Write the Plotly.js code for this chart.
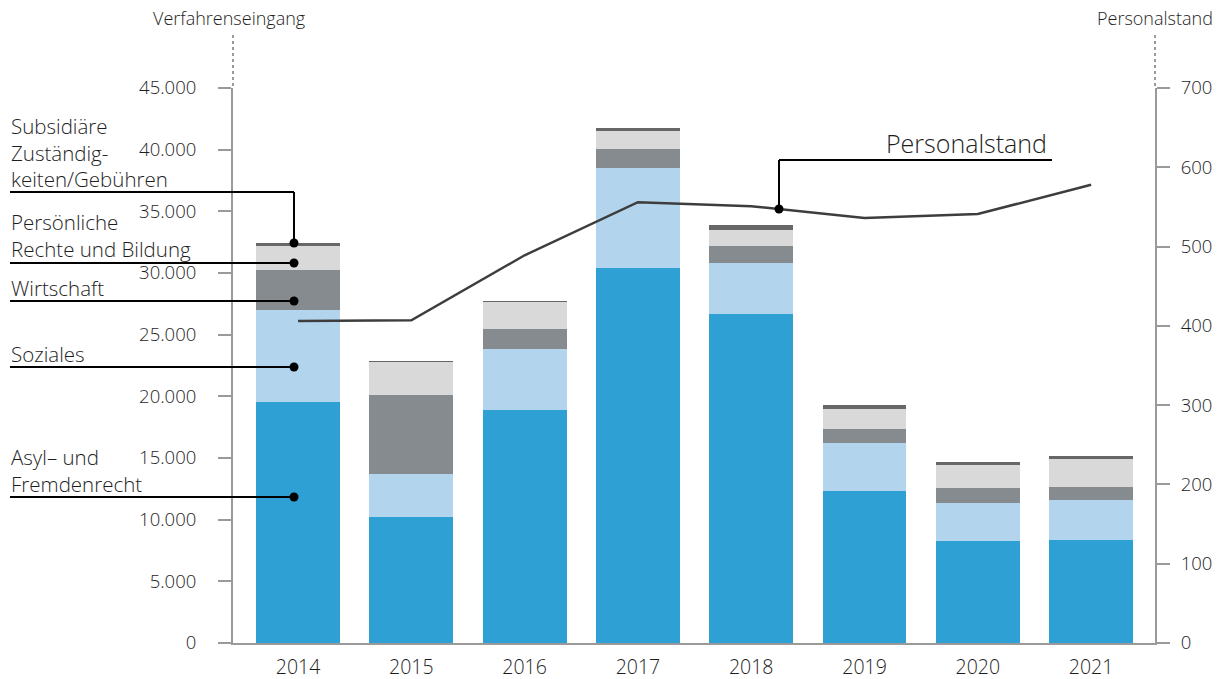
<!DOCTYPE html>
<html>
<head>
<meta charset="utf-8">
<script src="https://cdn.plot.ly/plotly-3.0.1.min.js"></script>
<style>html,body{margin:0;padding:0;background:#fff;}</style>
</head>
<body>
<div id="chart" style="width:1224px;height:679px;"></div>
<script>
// ---- data ----
const years = ['2014','2015','2016','2017','2018','2019','2020','2021'];
const asyl        = [19540, 10220, 18890, 30400, 26680, 12320, 8270, 8350];
const soziales    = [7460, 3490, 4950, 8110, 4130, 3890, 3080, 3240];
const wirtschaft  = [3240, 6400, 1620, 1540, 1380, 1140, 1220, 1050];
const persoenlich = [1950, 2680, 2190, 1460, 1300, 1620, 1870, 2270];
const subsidiaer  = [220, 80, 60, 240, 400, 320, 240, 240];
const personal    = [406, 407, 489, 556, 551, 536, 541, 578];
const leftTicks = [0,5000,10000,15000,20000,25000,30000,35000,40000,45000];
const rightTicks = [0,100,200,300,400,500,600,700];

// ---- layout helpers (pixel -> paper) ----
const L = 233, R = 1155, T = 88, B = 643;
const X = px => (px - L) / (R - L);
const Y = py => (B - py) / (B - T);

const font = 'Open Sans, Segoe UI, sans-serif';
const txt = '#1e1e1e';
const W = 300;

function bar(name, vals, color) {
  return {type:'bar', name, x: years, y: vals, marker:{color, line:{width:0}}, hoverinfo:'x+y+name'};
}
const traces = [
  bar('Asyl– und Fremdenrecht', asyl, '#2ea0d3'),
  bar('Soziales', soziales, '#b2d4ec'),
  bar('Wirtschaft', wirtschaft, '#868b8f'),
  bar('Persönliche Rechte und Bildung', persoenlich, '#d9d9d9'),
  bar('Subsidiäre Zuständigkeiten/Gebühren', subsidiaer, '#676767'),
  {type:'scatter', mode:'lines', name:'Personalstand', x: years, y: personal, yaxis:'y2',
   line:{color:'#3d3d3d', width:2.5}}
];

const shapes = [];
const annotations = [];
function seg(x0,y0,x1,y1){ shapes.push({type:'line', xref:'paper', yref:'paper', x0:X(x0), y0:Y(y0), x1:X(x1), y1:Y(y1), line:{color:'#000', width:2}}); }
function dot(x,y){ shapes.push({type:'circle', xref:'paper', yref:'paper', xsizemode:'pixel', ysizemode:'pixel', xanchor:X(x), yanchor:Y(y), x0:-4.5, x1:4.5, y0:-4.5, y1:4.5, fillcolor:'#000', line:{width:0}}); }
function label(text, x, y){ annotations.push({text, xref:'paper', yref:'paper', x:X(x), y:Y(y), xanchor:'left', yanchor:'bottom', align:'left', showarrow:false, font:{family:font, size:20.5, color:txt, weight:W}}); }

// left labels with connectors (text sits on its underline)
label('Subsidiäre<br>Zuständig-<br>keiten/Gebühren', 9, 195);
seg(10,192,294,192); seg(294,192,294,243); dot(294,243);
label('Persönliche<br>Rechte und Bildung', 9, 265);
seg(10,263,294,263); dot(294,263);
label('Wirtschaft', 9, 304);
seg(10,301,294,301); dot(294,301);
label('Soziales', 9, 370);
seg(10,367,294,367); dot(294,367);
label('Asyl– und<br>Fremdenrecht', 9, 500);
seg(10,497,294,497); dot(294,497);

// Personalstand callout
annotations.push({text:'Personalstand', xref:'paper', yref:'paper', x:X(1049), y:Y(143), xanchor:'right', yanchor:'middle', showarrow:false, font:{family:font, size:25, color:txt, weight:W}});
seg(779,160,1052,160); seg(779,160,779,209); dot(779,209);

// axis titles and dotted extensions
annotations.push({text:'Verfahrenseingang', xref:'paper', yref:'paper', x:X(229), y:Y(18), xanchor:'center', yanchor:'middle', showarrow:false, font:{family:font, size:18, color:txt, weight:W}});
annotations.push({text:'Personalstand', xref:'paper', yref:'paper', x:X(1155), y:Y(18), xanchor:'center', yanchor:'middle', showarrow:false, font:{family:font, size:18, color:txt, weight:W}});
[L, R].forEach(px => shapes.push({type:'line', xref:'paper', yref:'paper', x0:X(px), x1:X(px), y0:Y(86), y1:Y(35), line:{color:'#9a9a9a', width:2, dash:'dot'}}));

const axisStyle = {showgrid:false, zeroline:false, showline:true, linecolor:'#9a9a9a', linewidth:2,
  ticks:'outside', ticklen:13, tickwidth:2, tickcolor:'#9a9a9a', tickfont:{family:font, size:18.5, color:txt, weight:W}, fixedrange:true};

const layout = {
  width:1224, height:679,
  margin:{l:L, r:1224-R, t:T, b:679-B},
  paper_bgcolor:'#fff', plot_bgcolor:'#fff',
  barmode:'stack', bargap:0.26, showlegend:false,
  separators:',.',
  font:{family:font, color:txt},
  xaxis:{type:'category', range:[-0.574, 7.564], showgrid:false, zeroline:false, showline:true, linecolor:'#9a9a9a', linewidth:2,
         ticks:'', tickfont:{family:font, size:19.5, color:txt, weight:W}, ticklabelstandoff:6, fixedrange:true},
  yaxis:Object.assign({range:[0,45000], tickvals:leftTicks, tickformat:',d', ticklabelstandoff:18}, axisStyle),
  yaxis2:Object.assign({range:[0,700], tickvals:rightTicks, tickformat:'d', overlaying:'y', side:'right', ticklabelstandoff:7}, axisStyle),
  shapes, annotations
};

Plotly.newPlot('chart', traces, layout, {displayModeBar:false, staticPlot:true});
</script>
</body>
</html>
